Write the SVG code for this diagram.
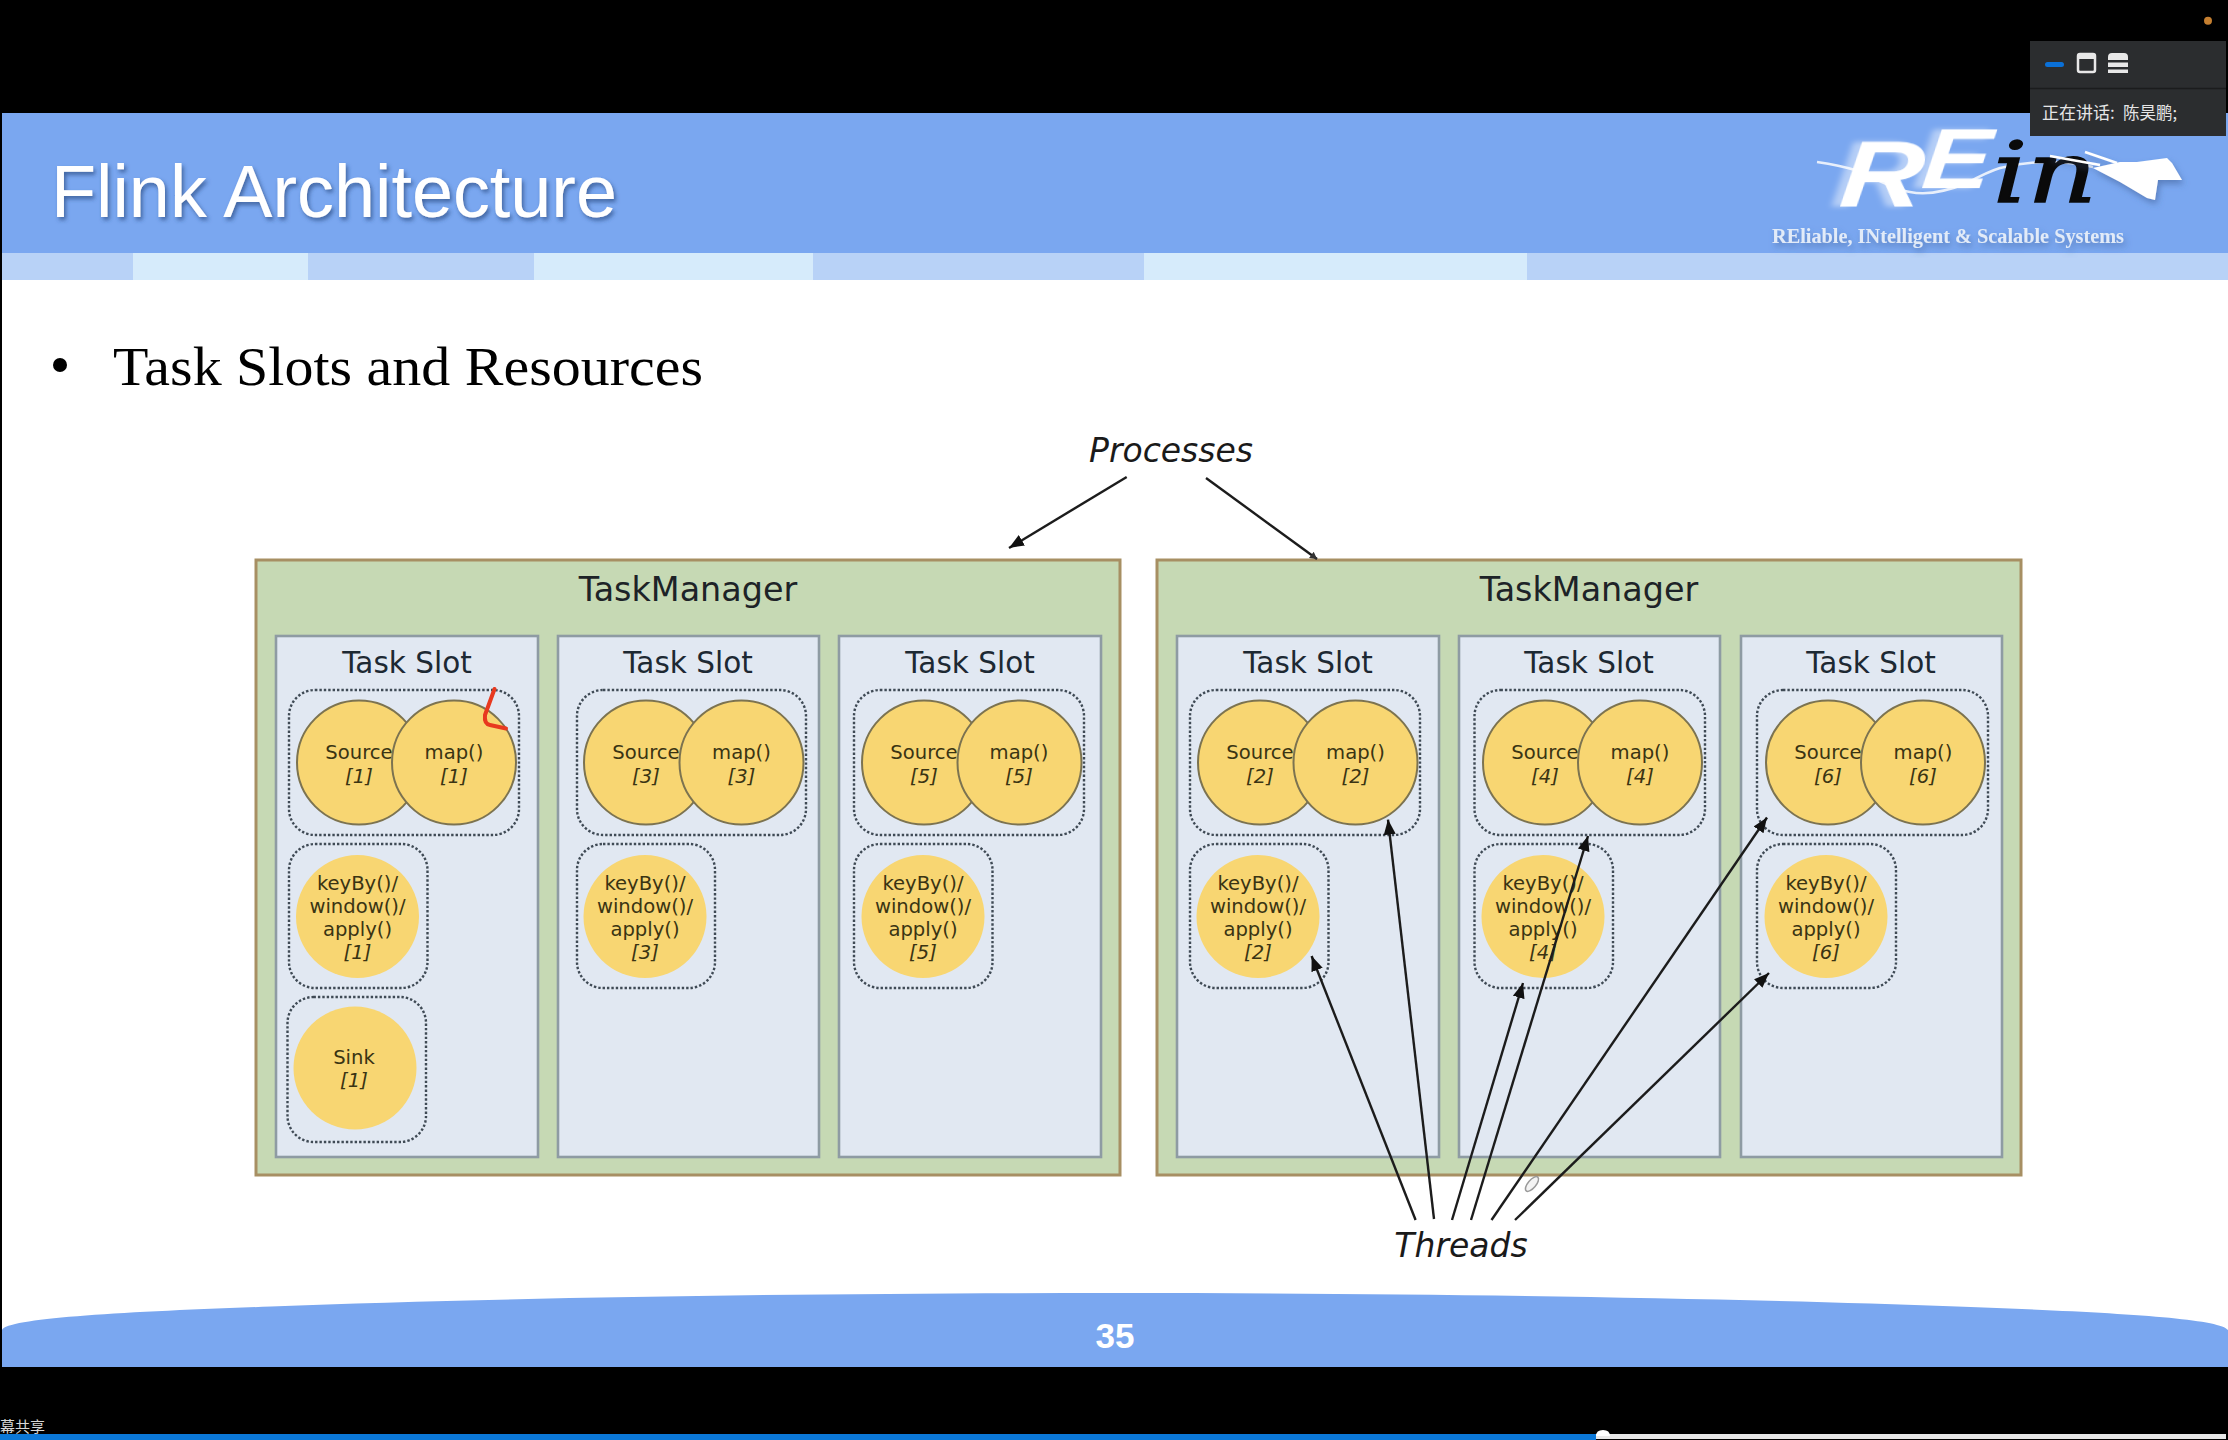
<svg xmlns="http://www.w3.org/2000/svg" width="2228" height="1440" viewBox="0 0 2228 1440">
<style>
.tm{fill:#c6d9b4;stroke:#a78f63;stroke-width:3}
.slot{fill:#e1e8f2;stroke:#8e9ba3;stroke-width:2.6}
.grp{fill:none;stroke:#3f4a55;stroke-width:2.4;stroke-dasharray:2.4 2}
.op{fill:#f8d672;stroke:#7c7350;stroke-width:2}
.opn{fill:#f8d672}
text{font-family:"DejaVu Sans",Verdana,sans-serif}
.tmt{font-size:33.4px;fill:#1d2327;text-anchor:middle}
.st{font-size:29.5px;fill:#1d2933;text-anchor:middle}
.lb{font-size:19.6px;fill:#3a3413;text-anchor:middle}
.idx{font-size:19.6px;font-style:italic;fill:#3a3413;text-anchor:middle}
.call{font-size:33px;font-style:italic;fill:#1a1a1a;text-anchor:middle}
.ar{stroke:#1c1c1c;stroke-width:2.4;fill:none;marker-end:url(#head)}
.ar2{stroke:#1c1c1c;stroke-width:2.4;fill:none;marker-end:url(#headsmall)}
</style>
<defs>
<marker id="head" markerUnits="userSpaceOnUse" markerWidth="16" markerHeight="14" refX="15" refY="7" orient="auto"><path d="M0 1 L15 7 L0 13 Z" fill="#111"/></marker>
<marker id="headsmall" markerUnits="userSpaceOnUse" markerWidth="8" markerHeight="10" refX="7" refY="5" orient="auto"><path d="M0 1 L7 5 L0 9 Z" fill="#333"/></marker>
<filter id="shadow" x="-5%" y="-20%" width="110%" height="150%"><feDropShadow dx="2" dy="3" stdDeviation="2" flood-color="#2f4f86" flood-opacity=".75"/></filter>
<filter id="soft" x="-10%" y="-30%" width="120%" height="170%"><feDropShadow dx="2" dy="4" stdDeviation="3" flood-color="#3f5f96" flood-opacity=".55"/></filter>
<filter id="trail" x="-20%" y="-20%" width="140%" height="150%"><feDropShadow dx="-7" dy="0" stdDeviation="2.500" flood-color="#ffffff" flood-opacity=".45"/></filter>
</defs>

<rect width="2228" height="1440" fill="#000"/>
<g id="slide">
<rect x="2" y="113" width="2226" height="1254" fill="#fff"/>
<rect x="2" y="113" width="2226" height="140" fill="#7aa7f0"/>
<rect x="2" y="253" width="131" height="27" fill="#b8d2f7"/>
<rect x="133" y="253" width="175" height="27" fill="#d6ebfb"/>
<rect x="308" y="253" width="226" height="27" fill="#b8d2f7"/>
<rect x="534" y="253" width="279" height="27" fill="#d6ebfb"/>
<rect x="813" y="253" width="331" height="27" fill="#b8d2f7"/>
<rect x="1144" y="253" width="383" height="27" fill="#d6ebfb"/>
<rect x="1527" y="253" width="701" height="27" fill="#b8d2f7"/>
<path d="M2 1367 V1330 C8 1318 120 1312 271 1306.5 C500 1298 800 1293 1114 1293 C1428 1293 1728 1298 1957 1306.5 C2108 1312 2220 1318 2228 1330 V1367 Z" fill="#7aa7f0"/>
<text x="51" y="217" font-size="74" fill="#fff" filter="url(#shadow)" style="font-family:'Liberation Sans',Arial,sans-serif" textLength="566" lengthAdjust="spacingAndGlyphs">Flink Architecture</text>
<circle cx="60" cy="365" r="7" fill="#000"/>
<text x="113" y="385" font-size="54" fill="#000" style="font-family:'Liberation Serif','Times New Roman',serif" textLength="590" lengthAdjust="spacingAndGlyphs">Task Slots and Resources</text>
<text x="1115" y="1348" font-size="35" font-weight="700" fill="#fff" text-anchor="middle" style="font-family:'Liberation Sans',Arial,sans-serif">35</text>
</g>

<g id="logo">
<path d="M1817 162 C1830 164 1845 167 1855 170 C1875 178 1895 190 1910 192 C1930 196 1950 190 1967 183 C1980 176 1990 171 2000 168 C2020 163 2035 162 2050 162 C2065 162 2080 164 2093 167" fill="none" stroke="#e8effb" stroke-width="2.5"/>
<text transform="translate(1838,207) skewX(-6) scale(1.22,1)" font-size="94" font-weight="700" font-style="italic" fill="#fff" filter="url(#trail)" style="font-family:'Liberation Sans',Arial,sans-serif">R<tspan dy="-19" dx="-2" font-size="84">E</tspan></text>
<text x="1993" y="202" font-size="84" font-style="italic" fill="#0a0a0a" stroke="#0a0a0a" stroke-width="1.500" style="font-family:'DejaVu Serif',serif" textLength="104" lengthAdjust="spacingAndGlyphs">in</text>
<g filter="url(#soft)">
<path d="M2050 156 L2100 165 M2085 152 L2117 163" fill="none" stroke="#fff" stroke-width="2.500"/>
<path d="M2093 168 L2120 162 L2137 162 L2167 158 L2172 163 L2182 180 L2170 180 L2158 180 L2155 200 L2147 198 L2120 182 Z" fill="#fff"/>
</g>
<text x="1772" y="243" font-size="21" font-weight="700" fill="#e2ebf8" filter="url(#soft)" style="font-family:'Liberation Serif',serif" textLength="352" lengthAdjust="spacingAndGlyphs">REliable, INtelligent &amp; Scalable Systems</text>
</g>

<g id="speaker-panel">
<rect x="2030" y="41" width="196" height="95" fill="#2b2d2f"/>
<line x1="2030" y1="88.5" x2="2226" y2="88.5" stroke="#1b1c1d" stroke-width="1.5"/>
<rect x="2045" y="62" width="19" height="5" rx="2.5" fill="#0a70d8"/>
<rect x="2078" y="54" width="17" height="18" rx="2" fill="none" stroke="#e8e8e8" stroke-width="2.5"/>
<rect x="2078" y="54" width="17" height="5" fill="#e8e8e8"/>
<path d="M2108 60 V57 Q2108 53 2112 53 H2124 Q2128 53 2128 57 V60 Z M2108 62.5 H2128 V67 H2108 Z M2108 69.5 H2128 V73 H2108 Z" fill="#e8e8e8"/>
<text x="2042" y="119" font-size="17" fill="#e6e6e6" style="font-family:'Noto Sans CJK SC',sans-serif">正在讲话:</text>
<text x="2123" y="119" font-size="16.500" fill="#e6e6e6" style="font-family:'Noto Sans CJK SC',sans-serif">陈昊鹏;</text>
</g>
<circle id="status-dot" cx="2208" cy="20.7" r="4" fill="#c57f30"/>

<g id="tm1"><rect class="tm" x="256" y="560" width="864" height="615"/><text class="tmt" x="688" y="601">TaskManager</text></g>
<g id="tm2"><rect class="tm" x="1157" y="560" width="864" height="615"/><text class="tmt" x="1589" y="601">TaskManager</text></g>

<g id="slot1">
<rect class="slot" x="276" y="636" width="262" height="521"/><text class="st" x="407" y="673">Task Slot</text>
<rect class="grp" x="289" y="690" width="230" height="145" rx="26"/>
<rect class="grp" x="289" y="844" width="138.500" height="144" rx="26"/>
<rect class="grp" x="287.500" y="997" width="138.500" height="145" rx="26"/>
</g>
<g id="source1"><ellipse class="op" cx="359" cy="762.500" rx="62" ry="62"/><text class="lb" x="359" y="759">Source</text><text class="idx" x="359" y="783">[1]</text></g>
<g id="map1"><ellipse class="op" cx="454" cy="762.500" rx="62" ry="62"/><text class="lb" x="454" y="759">map()</text><text class="idx" x="454" y="783">[1]</text></g>
<g id="keyby1"><circle class="opn" cx="357.500" cy="916.500" r="61.500"/><text class="lb" x="357.500" y="890">keyBy()/</text><text class="lb" x="357.500" y="913">window()/</text><text class="lb" x="357.500" y="936">apply()</text><text class="idx" x="357.500" y="959">[1]</text></g>
<g id="sink1"><circle class="opn" cx="355" cy="1068" r="61.500"/><text class="lb" x="354" y="1064">Sink</text><text class="idx" x="354" y="1087">[1]</text></g>

<g id="slot3">
<rect class="slot" x="558" y="636" width="261" height="521"/><text class="st" x="688" y="673">Task Slot</text>
<rect class="grp" x="577" y="690" width="229" height="145" rx="26"/>
<rect class="grp" x="577" y="844" width="138" height="144" rx="26"/>
</g>
<g id="source3"><ellipse class="op" cx="646" cy="762.500" rx="62" ry="62"/><text class="lb" x="646" y="759">Source</text><text class="idx" x="646" y="783">[3]</text></g>
<g id="map3"><ellipse class="op" cx="741.500" cy="762.500" rx="62" ry="62"/><text class="lb" x="741.500" y="759">map()</text><text class="idx" x="741.500" y="783">[3]</text></g>
<g id="keyby3"><circle class="opn" cx="645" cy="916.500" r="61.500"/><text class="lb" x="645" y="890">keyBy()/</text><text class="lb" x="645" y="913">window()/</text><text class="lb" x="645" y="936">apply()</text><text class="idx" x="645" y="959">[3]</text></g>

<g id="slot5">
<rect class="slot" x="839" y="636" width="262" height="521"/><text class="st" x="970" y="673">Task Slot</text>
<rect class="grp" x="854" y="690" width="230" height="145" rx="26"/>
<rect class="grp" x="854" y="844" width="138.500" height="144" rx="26"/>
</g>
<g id="source5"><ellipse class="op" cx="924" cy="762.500" rx="62" ry="62"/><text class="lb" x="924" y="759">Source</text><text class="idx" x="924" y="783">[5]</text></g>
<g id="map5"><ellipse class="op" cx="1019.500" cy="762.500" rx="62" ry="62"/><text class="lb" x="1019" y="759">map()</text><text class="idx" x="1019" y="783">[5]</text></g>
<g id="keyby5"><circle class="opn" cx="923" cy="916.500" r="61.500"/><text class="lb" x="923" y="890">keyBy()/</text><text class="lb" x="923" y="913">window()/</text><text class="lb" x="923" y="936">apply()</text><text class="idx" x="923" y="959">[5]</text></g>

<g id="slot2">
<rect class="slot" x="1177" y="636" width="262" height="521"/><text class="st" x="1308" y="673">Task Slot</text>
<rect class="grp" x="1190" y="690" width="230" height="145" rx="26"/>
<rect class="grp" x="1190" y="844" width="138.500" height="144" rx="26"/>
</g>
<g id="source2"><ellipse class="op" cx="1260" cy="762.500" rx="62" ry="62"/><text class="lb" x="1260" y="759">Source</text><text class="idx" x="1260" y="783">[2]</text></g>
<g id="map2"><ellipse class="op" cx="1355.500" cy="762.500" rx="62" ry="62"/><text class="lb" x="1355.500" y="759">map()</text><text class="idx" x="1355.500" y="783">[2]</text></g>
<g id="keyby2"><circle class="opn" cx="1258" cy="916.500" r="61.500"/><text class="lb" x="1258" y="890">keyBy()/</text><text class="lb" x="1258" y="913">window()/</text><text class="lb" x="1258" y="936">apply()</text><text class="idx" x="1258" y="959">[2]</text></g>

<g id="slot4">
<rect class="slot" x="1459" y="636" width="261" height="521"/><text class="st" x="1589" y="673">Task Slot</text>
<rect class="grp" x="1474.500" y="690" width="230.500" height="145" rx="26"/>
<rect class="grp" x="1474.500" y="844" width="138.500" height="144" rx="26"/>
</g>
<g id="source4"><ellipse class="op" cx="1545" cy="762.500" rx="62" ry="62"/><text class="lb" x="1545" y="759">Source</text><text class="idx" x="1545" y="783">[4]</text></g>
<g id="map4"><ellipse class="op" cx="1640" cy="762.500" rx="62" ry="62"/><text class="lb" x="1640" y="759">map()</text><text class="idx" x="1640" y="783">[4]</text></g>
<g id="keyby4"><circle class="opn" cx="1543" cy="916.500" r="61.500"/><text class="lb" x="1543" y="890">keyBy()/</text><text class="lb" x="1543" y="913">window()/</text><text class="lb" x="1543" y="936">apply()</text><text class="idx" x="1543" y="959">[4]</text></g>

<g id="slot6">
<rect class="slot" x="1741" y="636" width="261" height="521"/><text class="st" x="1871" y="673">Task Slot</text>
<rect class="grp" x="1757" y="690" width="231" height="145" rx="26"/>
<rect class="grp" x="1757" y="844" width="139" height="144" rx="26"/>
</g>
<g id="source6"><ellipse class="op" cx="1828" cy="762.500" rx="62" ry="62"/><text class="lb" x="1828" y="759">Source</text><text class="idx" x="1828" y="783">[6]</text></g>
<g id="map6"><ellipse class="op" cx="1923" cy="762.500" rx="62" ry="62"/><text class="lb" x="1923" y="759">map()</text><text class="idx" x="1923" y="783">[6]</text></g>
<g id="keyby6"><circle class="opn" cx="1826" cy="916.500" r="61.500"/><text class="lb" x="1826" y="890">keyBy()/</text><text class="lb" x="1826" y="913">window()/</text><text class="lb" x="1826" y="936">apply()</text><text class="idx" x="1826" y="959">[6]</text></g>

<g id="processes"><text class="call" x="1171" y="461.500">Processes</text></g>
<g id="threads"><text class="call" x="1461" y="1256.500">Threads</text></g>

<g id="connectors">
<line class="ar" x1="1126.700" y1="477" x2="1009" y2="548"/>
<line class="ar2" x1="1206" y1="478" x2="1317" y2="559"/>
<line class="ar" x1="1415.600" y1="1220" x2="1311.600" y2="956"/>
<line class="ar" x1="1434" y1="1219" x2="1388" y2="819.600"/>
<line class="ar" x1="1452" y1="1220" x2="1523" y2="983"/>
<line class="ar" x1="1471" y1="1220" x2="1588" y2="836"/>
<line class="ar" x1="1491.500" y1="1220" x2="1767" y2="817.500"/>
<line class="ar" x1="1515" y1="1220" x2="1769" y2="973"/>
</g>

<g id="annotations">
<path d="M494.500 689 L485 715 Q484 724 490 725 L506 728.500" fill="none" stroke="#e8391f" stroke-width="4" stroke-linecap="round" stroke-linejoin="round"/>
<ellipse cx="1532" cy="1184" rx="4" ry="9" transform="rotate(40 1532 1184)" fill="#f4f4f4" stroke="#9a9a9a" stroke-width="1.500"/>
</g>

<g id="player-bar">
<text x="0" y="1432" font-size="15" fill="#d8d8d8" style="font-family:'Noto Sans CJK SC',sans-serif">幕共享</text>
<rect x="0" y="1434" width="1596" height="6" fill="#0b78d8"/>
<rect x="1596" y="1434" width="630" height="5" fill="#e8e8e8"/>
<path d="M1596 1436 Q1596 1430 1603 1430 Q1610 1430 1610 1436 Z" fill="#fff"/>
</g>
</svg>
